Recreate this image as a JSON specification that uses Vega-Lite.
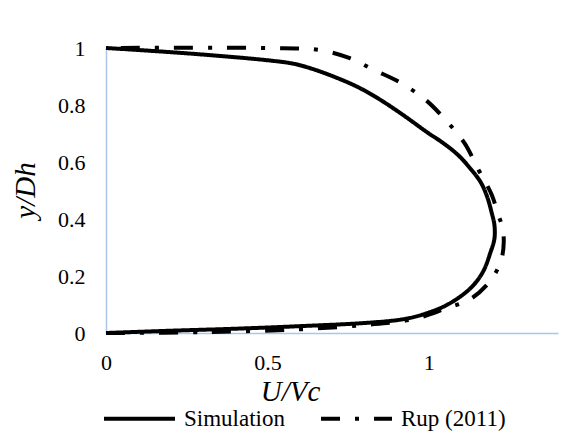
{
  "$schema": "https://vega.github.io/schema/vega-lite/v6.json",
  "autosize": {"type": "none"},
  "padding": {"left": 106, "top": 48, "right": 30, "bottom": 106},
  "width": 452,
  "height": 285,
  "background": "white",
  "config": {
    "view": {"stroke": null},
    "font": "Liberation Serif",
    "axis": {"grid": false, "ticks": false, "domainColor": "#a9c6ea", "domainWidth": 1.5, "labelFont": "Liberation Serif", "labelFontSize": 22, "labelColor": "#000", "titleFont": "Liberation Serif", "titleFontStyle": "italic", "titleFontWeight": "normal", "titleFontSize": 29, "titleColor": "#000"},
    "legend": {"labelFont": "Liberation Serif", "labelFontSize": 23, "labelColor": "#000", "symbolStrokeColor": "#000", "symbolStrokeWidth": 4, "symbolType": "stroke"}
  },
  "data": {"values": [
    {"s": "Simulation", "i": 0, "u": 0, "y": 0},
    {"s": "Simulation", "i": 1, "u": 0.2, "y": 0.008},
    {"s": "Simulation", "i": 2, "u": 0.4, "y": 0.015},
    {"s": "Simulation", "i": 3, "u": 0.6, "y": 0.024},
    {"s": "Simulation", "i": 4, "u": 0.8, "y": 0.035},
    {"s": "Simulation", "i": 5, "u": 0.9, "y": 0.045},
    {"s": "Simulation", "i": 6, "u": 0.95, "y": 0.055},
    {"s": "Simulation", "i": 7, "u": 1.0, "y": 0.072},
    {"s": "Simulation", "i": 8, "u": 1.05, "y": 0.095},
    {"s": "Simulation", "i": 9, "u": 1.1, "y": 0.13},
    {"s": "Simulation", "i": 10, "u": 1.14, "y": 0.17},
    {"s": "Simulation", "i": 11, "u": 1.17, "y": 0.22},
    {"s": "Simulation", "i": 12, "u": 1.19, "y": 0.28},
    {"s": "Simulation", "i": 13, "u": 1.203, "y": 0.33},
    {"s": "Simulation", "i": 14, "u": 1.203, "y": 0.38},
    {"s": "Simulation", "i": 15, "u": 1.195, "y": 0.42},
    {"s": "Simulation", "i": 16, "u": 1.18, "y": 0.48},
    {"s": "Simulation", "i": 17, "u": 1.16, "y": 0.53},
    {"s": "Simulation", "i": 18, "u": 1.13, "y": 0.575},
    {"s": "Simulation", "i": 19, "u": 1.09, "y": 0.625},
    {"s": "Simulation", "i": 20, "u": 1.04, "y": 0.67},
    {"s": "Simulation", "i": 21, "u": 1.0, "y": 0.70},
    {"s": "Simulation", "i": 22, "u": 0.92, "y": 0.765},
    {"s": "Simulation", "i": 23, "u": 0.85, "y": 0.818},
    {"s": "Simulation", "i": 24, "u": 0.78, "y": 0.863},
    {"s": "Simulation", "i": 25, "u": 0.7, "y": 0.902},
    {"s": "Simulation", "i": 26, "u": 0.63, "y": 0.93},
    {"s": "Simulation", "i": 27, "u": 0.58, "y": 0.945},
    {"s": "Simulation", "i": 28, "u": 0.5, "y": 0.957},
    {"s": "Simulation", "i": 29, "u": 0.3, "y": 0.977},
    {"s": "Simulation", "i": 30, "u": 0.1, "y": 0.993},
    {"s": "Simulation", "i": 31, "u": 0, "y": 1},
    {"s": "Rup (2011)", "i": 0, "u": 0, "y": 0},
    {"s": "Rup (2011)", "i": 1, "u": 0.3, "y": 0.003},
    {"s": "Rup (2011)", "i": 2, "u": 0.6, "y": 0.013},
    {"s": "Rup (2011)", "i": 3, "u": 0.8, "y": 0.028},
    {"s": "Rup (2011)", "i": 4, "u": 0.95, "y": 0.048},
    {"s": "Rup (2011)", "i": 5, "u": 1.05, "y": 0.085},
    {"s": "Rup (2011)", "i": 6, "u": 1.13, "y": 0.12},
    {"s": "Rup (2011)", "i": 7, "u": 1.195, "y": 0.19},
    {"s": "Rup (2011)", "i": 8, "u": 1.225, "y": 0.26},
    {"s": "Rup (2011)", "i": 9, "u": 1.232, "y": 0.32},
    {"s": "Rup (2011)", "i": 10, "u": 1.228, "y": 0.37},
    {"s": "Rup (2011)", "i": 11, "u": 1.215, "y": 0.415},
    {"s": "Rup (2011)", "i": 12, "u": 1.195, "y": 0.484},
    {"s": "Rup (2011)", "i": 13, "u": 1.17, "y": 0.54},
    {"s": "Rup (2011)", "i": 14, "u": 1.154, "y": 0.572},
    {"s": "Rup (2011)", "i": 15, "u": 1.11, "y": 0.667},
    {"s": "Rup (2011)", "i": 16, "u": 1.052, "y": 0.747},
    {"s": "Rup (2011)", "i": 17, "u": 0.99, "y": 0.818},
    {"s": "Rup (2011)", "i": 18, "u": 0.914, "y": 0.877},
    {"s": "Rup (2011)", "i": 19, "u": 0.83, "y": 0.923},
    {"s": "Rup (2011)", "i": 20, "u": 0.753, "y": 0.965},
    {"s": "Rup (2011)", "i": 21, "u": 0.66, "y": 0.993},
    {"s": "Rup (2011)", "i": 22, "u": 0.5, "y": 1.0},
    {"s": "Rup (2011)", "i": 23, "u": 0, "y": 1.0}
  ]},
  "mark": {"type": "line", "color": "#000", "strokeWidth": 4, "interpolate": "catmull-rom"},
  "encoding": {
    "x": {"field": "u", "type": "quantitative", "scale": {"domain": [0, 1.4], "nice": false}, "axis": {"values": [0, 0.5, 1], "format": "~g", "labelFlush": false, "title": "U/Vc", "labelPadding": 19, "titleX": 184, "titleY": 67, "titleAlign": "center", "titleBaseline": "alphabetic"}},
    "y": {"field": "y", "type": "quantitative", "scale": {"domain": [0, 1], "nice": false}, "axis": {"values": [0, 0.2, 0.4, 0.6, 0.8, 1], "format": "~g", "labelFlush": false, "title": "y/Dh", "labelPadding": 21, "titleX": -72, "titleY": 142, "titleAngle": -90, "titleAlign": "center", "titleBaseline": "alphabetic"}},
    "order": {"field": "i", "type": "quantitative"},
    "detail": {"field": "s"},
    "strokeDash": {"field": "s", "type": "nominal", "scale": {"domain": ["Simulation", "Rup (2011)"], "range": [[1, 0], [19, 15, 4, 15]]}, "legend": {"title": null, "orient": "none", "direction": "horizontal", "legendX": -4, "legendY": 333, "symbolSize": 5041, "labelOffset": 7, "columnPadding": 28}}
  }
}
